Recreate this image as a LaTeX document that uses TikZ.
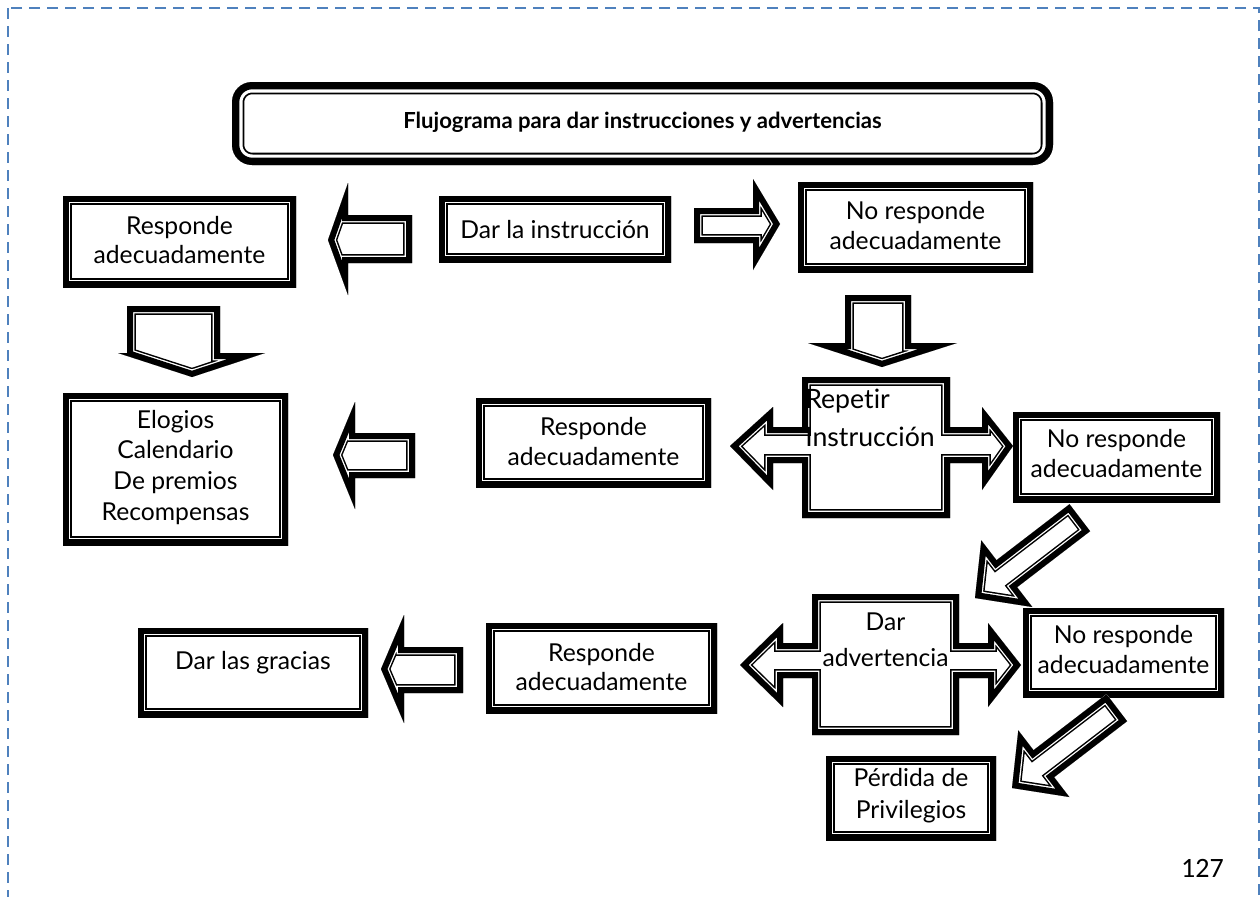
\documentclass[tikz,border=0pt]{standalone}
\usepackage{fontspec}
\setmainfont{Lato}[Ligatures=NoCommon]
\newfontfamily\pagefont{Carlito}
\definecolor{frameblue}{HTML}{4F81BD}

% centred / left-aligned lines with a fixed baseline distance; the node's
% base anchor sits on the first baseline
\newcommand\clines[2]{\vtop{\baselineskip=#1\relax\lineskiplimit=-50pt\halign{\hfil##\hfil\cr#2\crcr}}}
\newcommand\llines[2]{\vtop{\baselineskip=#1\relax\lineskiplimit=-50pt\halign{##\hfil\cr#2\crcr}}}

% thick-thin frame drawn inside a closed outline:
% #1 path options, #2 full width, #3 gap width, #4 thick band width, #5 outline
\newcommand\ttshape[5]{%
  \fill[white,#1] #5 -- cycle;
  \begin{scope}
    \clip[#1] #5 -- cycle;
    \draw[black,line width=#2,line join=miter,miter limit=80,#1] #5 -- cycle;
    \draw[white,line width=#3,line join=miter,miter limit=80,#1] #5 -- cycle;
    \draw[black,line width=#4,line join=miter,miter limit=80,#1] #5 -- cycle;
  \end{scope}}
\newcommand\frm[1]{\ttshape{}{13.2pt}{10.95pt}{9pt}{#1}}

\tikzset{
  lbl/.style={inner sep=0pt, anchor=base, font=\fontsize{18.5}{22.5}\selectfont},
  lbll/.style={lbl, anchor=base west},
}

\begin{document}
\begin{tikzpicture}[x=0.75pt,y=-0.75pt]
\useasboundingbox (0,0) rectangle (1260,896);
\fill[white] (0,0) rectangle (1260,896);

% page frame
\begin{scope}
  \clip (0,0) rectangle (1260,896);
  \draw[frameblue, line width=1.6pt, dash pattern=on 8.5pt off 5pt]
    (8,8) rectangle (1259,960);
\end{scope}

% title
\ttshape{rounded corners=15pt}{18.45pt}{15.75pt}{10.95pt}{(232,82) -- (1053,82) -- (1053,165) -- (232,165)}
\node[inner sep=0pt, anchor=base, font=\bfseries\fontsize{16.6}{20}\selectfont] (title)
  at (642.5,128) {Flujograma para dar instrucciones y advertencias};

% first row
\frm{(63,196) -- (296,196) -- (296,287) -- (63,287)}
\node[lbl] (resp1) at (179.5,234) {\clines{22pt}{Responde\cr adecuadamente}};
\frm{(439,196) -- (671,196) -- (671,262) -- (439,262)}
\node[lbl] (instr) at (555,238) {Dar la instrucción};
\frm{(798,182) -- (1033,182) -- (1033,272) -- (798,272)}
\node[lbl] (nresp1) at (915.5,219) {\clines{22.5pt}{No responde\cr adecuadamente}};
\frm{(412,215) -- (348,215) -- (348,183) -- (328,240) -- (348,295) -- (348,263) -- (412,263)}
\frm{(694,208) -- (753,208) -- (753,179) -- (780,224) -- (753,270) -- (753,243) -- (694,243)}
\frm{(127,306) -- (220,306) -- (220,353) -- (265,353) -- (192,377) -- (118,353) -- (127,353)}
\frm{(845,295) -- (911,295) -- (911,343) -- (957,343) -- (882,367) -- (808,343) -- (845,343)}

% second row
\frm{(63,393) -- (288,393) -- (288,545) -- (63,545)}
\node[lbl] (prize) at (175.5,428) {\clines{23pt}{Elogios\cr Calendario\cr De premios\cr Recompensas}};
\frm{(415,433) -- (355,433) -- (355,402) -- (333,455) -- (355,509) -- (355,478) -- (415,478)}
\frm{(476,398) -- (711,398) -- (711,487) -- (476,487)}
\node[lbl] (resp2) at (593.5,435) {\clines{22.5pt}{Responde\cr adecuadamente}};
\frm{(802,377) -- (950,377) -- (950,427) -- (982,427) -- (982,407) -- (1013,446) -- (982,490) -- (982,463) -- (950,463) -- (950,518) -- (802,518) -- (802,463) -- (773,463) -- (773,490) -- (730,446) -- (773,407) -- (773,427) -- (802,427)}
\node[lbll, font=\fontsize{20}{24}\selectfont] (repeat) at (805,408) {\llines{29pt}{Repetir\cr Instrucción}};
\frm{(1013,412) -- (1220,412) -- (1220,502) -- (1013,502)}
\node[lbl] (nresp2) at (1116.5,447) {\clines{22.5pt}{No responde\cr adecuadamente}};
\frm{(975,598) -- (981.3,540.4) -- (996.5,560.2) -- (1069.5,504.2) -- (1090.1,531.2) -- (1017.1,587.2) -- (1032.3,607.0)}

% third row
\frm{(138,628) -- (368,628) -- (368,717) -- (138,717)}
\node[lbl] (thanks) at (253,669) {Dar las gracias};
\frm{(463,647) -- (404,647) -- (404,615) -- (381,669) -- (404,723) -- (404,693) -- (463,693)}
\frm{(486,623) -- (717,623) -- (717,713) -- (486,713)}
\node[lbl] (resp3) at (601.5,661) {\clines{22pt}{Responde\cr adecuadamente}};
\frm{(812,594) -- (959,594) -- (959,643) -- (988,643) -- (988,623) -- (1021,665) -- (988,707) -- (988,678) -- (959,678) -- (959,735) -- (812,735) -- (812,678) -- (783,678) -- (783,707) -- (740,665) -- (783,623) -- (783,643) -- (812,643)}
\node[lbl] (warn) at (885.5,630) {\clines{27pt}{Dar\cr advertencia}};
\frm{(1023,608) -- (1224,608) -- (1224,697) -- (1023,697)}
\node[lbl] (nresp3) at (1123.5,643) {\clines{22.5pt}{No responde\cr adecuadamente}};
\begin{scope}[shift={(37,190)}]
  \frm{(975,598) -- (981.3,540.4) -- (996.5,560.2) -- (1069.5,504.2) -- (1090.1,531.2) -- (1017.1,587.2) -- (1032.3,607.0)}
\end{scope}

% final box
\frm{(826,756) -- (996,756) -- (996,840) -- (826,840)}
\node[lbl] (loss) at (911,786) {\clines{24pt}{Pérdida de\cr Privilegios}};

% page number
\node[inner sep=0pt, anchor=base east, font=\pagefont\fontsize{21}{25}\selectfont] (page)
  at (1224,877) {127};
\end{tikzpicture}
\end{document}
